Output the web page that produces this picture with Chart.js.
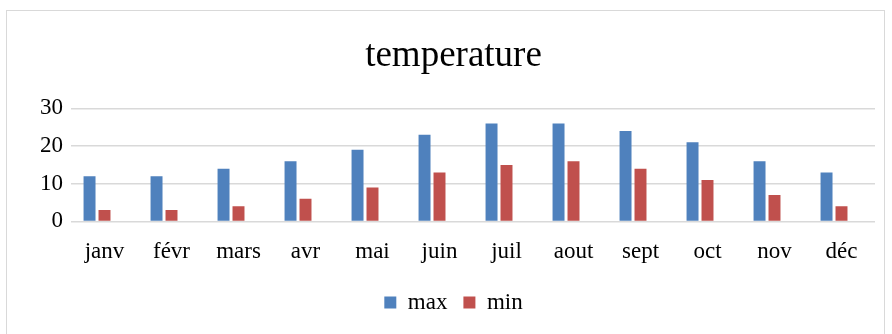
<!DOCTYPE html>
<html>
<head>
<meta charset="utf-8">
<script src="https://cdn.jsdelivr.net/npm/chart.js@4/dist/chart.umd.min.js"></script>
<style>
  body { margin: 0; background: #fff; }
  #frame { position: absolute; left: 6px; top: 10px; width: 879px; height: 340px; border: 1px solid #d9d9d9; box-sizing: border-box; }
  #wrap { position: absolute; left: 0; top: 0; width: 892px; height: 334px; }
</style>
</head>
<body>
<div id="frame"></div>
<div id="wrap"><canvas id="chart"></canvas></div>
<script>
const months = ['janv', 'févr', 'mars', 'avr', 'mai', 'juin', 'juil', 'aout', 'sept', 'oct', 'nov', 'déc'];
const maxTemps = [12, 12, 14, 16, 19, 23, 26, 26, 24, 21, 16, 13];
const minTemps = [3, 3, 4, 6, 9, 13, 15, 16, 14, 11, 7, 4];
const yTicks = [0, 10, 20, 30];

const serif = '"Liberation Serif", "Times New Roman", serif';

const ctx = document.getElementById('chart').getContext('2d');
new Chart(ctx, {
    type: 'bar',
    data: {
        labels: months,
        datasets: [
            { label: 'max', data: maxTemps, backgroundColor: '#4f81bd' },
            { label: 'min', data: minTemps, backgroundColor: '#c0504d' },
            // empty third slot, the original leaves room for it in each group
            { label: '', data: [], backgroundColor: 'rgba(0,0,0,0)' }
        ]
    },
    options: {
        responsive: true,
        maintainAspectRatio: false,
        animation: false,
        datasets: { bar: { categoryPercentage: 0.67, barPercentage: 0.8 } },
        layout: { padding: { left: 32, right: 17, top: 20, bottom: 10 } },
        plugins: {
            title: {
                display: true,
                text: 'temperature',
                color: '#000',
                font: { family: serif, size: 37, weight: 'normal' },
                padding: { top: 14, bottom: 30 }
            },
            legend: {
                position: 'bottom',
                labels: {
                    color: '#000',
                    font: { family: serif, size: 23 },
                    boxWidth: 12,
                    boxHeight: 12,
                    padding: 16,
                    filter: item => item.text !== ''
                }
            },
            tooltip: { enabled: false }
        },
        scales: {
            x: {
                grid: { display: false },
                border: { display: false },
                ticks: { color: '#000', font: { family: serif, size: 23 }, padding: 9, maxRotation: 0 }
            },
            y: {
                min: 0,
                max: 30,
                afterBuildTicks: axis => { axis.ticks = yTicks.map(v => ({ value: v })); },
                grid: { color: '#d9d9d9', lineWidth: 1.5, drawTicks: false },
                border: { display: false },
                ticks: { color: '#000', font: { family: serif, size: 23 }, padding: 8 }
            }
        }
    }
});
</script>
</body>
</html>
